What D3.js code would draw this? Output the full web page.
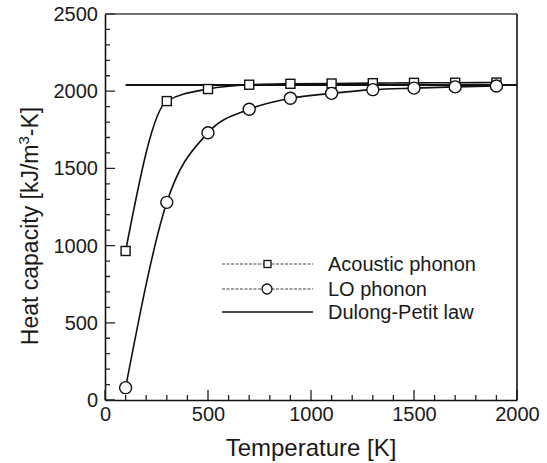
<!DOCTYPE html>
<html>
<head>
<meta charset="utf-8">
<script src="https://cdn.jsdelivr.net/npm/d3@7"></script>
<style>
  body { margin: 0; background: #fff; }
  svg { display: block; font-family: "Liberation Sans", Arial, Helvetica, sans-serif; }
</style>
</head>
<body>
<div id="chart"></div>
<script>
// Temperatures (K) where the curves were sampled
const temps = [100, 300, 500, 700, 900, 1100, 1300, 1500, 1700, 1900];
// Heat capacity values, kJ/m^3-K
const acoustic = [965, 1936, 2014, 2042, 2048, 2050, 2052, 2054, 2055, 2056];
const loPhonon = [80, 1280, 1731, 1883, 1954, 1986, 2010, 2020, 2028, 2034];
// Dulong-Petit limit, drawn from the first sample temperature to the axis end
const dulongPetit = [[100, 2040], [2000, 2040]];

const xTicks = [0, 500, 1000, 1500, 2000];
const yTicks = [0, 500, 1000, 1500, 2000, 2500];
const seriesNames = ["Acoustic phonon", "LO phonon", "Dulong-Petit law"];

const width = 547, height = 463;
const plotLeft = 105, plotRight = 517, plotTop = 14, plotBottom = 400;

const svg = d3.select("#chart").append("svg")
    .attr("width", width)
    .attr("height", height);

const x = d3.scaleLinear().domain([0, 2000]).range([plotLeft, plotRight]);
const y = d3.scaleLinear().domain([0, 2500]).range([plotBottom, plotTop]);

// axes (labels + domain lines)
svg.append("g")
    .attr("transform", `translate(0,${plotBottom})`)
    .call(d3.axisBottom(x).tickValues(xTicks).tickSize(0)
        .tickPadding(7).tickFormat(d3.format("d")));
svg.append("g")
    .attr("transform", `translate(${plotLeft},0)`)
    .call(d3.axisLeft(y).tickValues(yTicks).tickSize(0)
        .tickPadding(7).tickFormat(d3.format("d")));

svg.selectAll(".domain").attr("stroke", "#111").attr("stroke-width", 1.6);
svg.selectAll(".tick text")
    .attr("font-size", 20)
    .attr("font-family", "Liberation Sans, Arial, sans-serif")
    .attr("fill", "#1a1a1a");

// inward tick marks: minor every 100, major at the labelled values
const xMinor = d3.range(0, 2001, 100);
const yMinor = d3.range(0, 2501, 100);
const tickPath = d3.path();
xMinor.forEach(d => {
    tickPath.moveTo(x(d), plotBottom);
    tickPath.lineTo(x(d), plotBottom - (xTicks.includes(d) ? 10 : 5));
});
yMinor.forEach(d => {
    tickPath.moveTo(plotLeft, y(d));
    tickPath.lineTo(plotLeft + (yTicks.includes(d) ? 10 : 5), y(d));
});
svg.append("path")
    .attr("d", tickPath.toString())
    .attr("fill", "none")
    .attr("stroke", "#222")
    .attr("stroke-width", 1.3);

// top and right frame
svg.append("line")
    .attr("x1", plotLeft).attr("x2", plotRight).attr("y1", plotTop).attr("y2", plotTop)
    .attr("stroke", "#444").attr("stroke-width", 1.3);
svg.append("line")
    .attr("x1", plotRight).attr("x2", plotRight).attr("y1", plotTop).attr("y2", plotBottom)
    .attr("stroke", "#111").attr("stroke-width", 1.6);

// curves
const line = d3.line()
    .x(d => x(d[0]))
    .y(d => y(d[1]))
    .curve(d3.curveMonotoneX);

const acousticPts = temps.map((t, i) => [t, acoustic[i]]);
const loPts = temps.map((t, i) => [t, loPhonon[i]]);

svg.append("path")
    .attr("d", d3.line().x(d => x(d[0])).y(d => y(d[1]))(dulongPetit))
    .attr("fill", "none").attr("stroke", "#111").attr("stroke-width", 1.8);

svg.append("path")
    .attr("d", line(acousticPts))
    .attr("fill", "none").attr("stroke", "#111").attr("stroke-width", 1.6);

svg.append("path")
    .attr("d", line(loPts))
    .attr("fill", "none").attr("stroke", "#111").attr("stroke-width", 1.6);

svg.append("g").selectAll("rect")
    .data(acousticPts)
    .join("rect")
    .attr("x", d => x(d[0]) - 4.5)
    .attr("y", d => y(d[1]) - 4.5)
    .attr("width", 9).attr("height", 9)
    .attr("fill", "#fff").attr("stroke", "#111").attr("stroke-width", 1.4);

svg.append("g").selectAll("circle")
    .data(loPts)
    .join("circle")
    .attr("cx", d => x(d[0]))
    .attr("cy", d => y(d[1]))
    .attr("r", 6)
    .attr("fill", "#fff").attr("stroke", "#111").attr("stroke-width", 1.4);

// legend
const legend = svg.append("g").attr("font-size", 20).attr("fill", "#1a1a1a");
const legY = [264, 289, 312];
seriesNames.forEach((name, i) => {
    const g = legend.append("g").attr("transform", `translate(0,${legY[i]})`);
    g.append("line")
        .attr("x1", 222).attr("x2", 313)
        .attr("stroke", i < 2 ? "#444" : "#111")
        .attr("stroke-width", i < 2 ? 1.2 : 1.6)
        .attr("stroke-dasharray", i < 2 ? "3,1.5" : null);
    if (i === 0) {
        g.append("rect").attr("x", 264).attr("y", -3.5).attr("width", 7).attr("height", 7)
            .attr("fill", "#fff").attr("stroke", "#111").attr("stroke-width", 1.3);
    } else if (i === 1) {
        g.append("circle").attr("cx", 267).attr("cy", 0).attr("r", 5)
            .attr("fill", "#fff").attr("stroke", "#111").attr("stroke-width", 1.3);
    }
    g.append("text")
        .attr("x", 328).attr("y", 7)
        .text(name);
});

// axis titles
svg.append("text")
    .attr("x", (plotLeft + plotRight) / 2)
    .attr("y", 456)
    .attr("text-anchor", "middle")
    .attr("font-size", 24)
    .attr("fill", "#1a1a1a")
    .text("Temperature [K]");

const yTitle = svg.append("text")
    .attr("transform", "translate(38,226) rotate(-90)")
    .attr("text-anchor", "middle")
    .attr("font-size", 23)
    .attr("fill", "#1a1a1a");
yTitle.append("tspan").text("Heat capacity [kJ/m");
yTitle.append("tspan").attr("dy", -9).attr("font-size", 15).text("3");
yTitle.append("tspan").attr("dy", 9).text("-K]");
</script>
</body>
</html>
